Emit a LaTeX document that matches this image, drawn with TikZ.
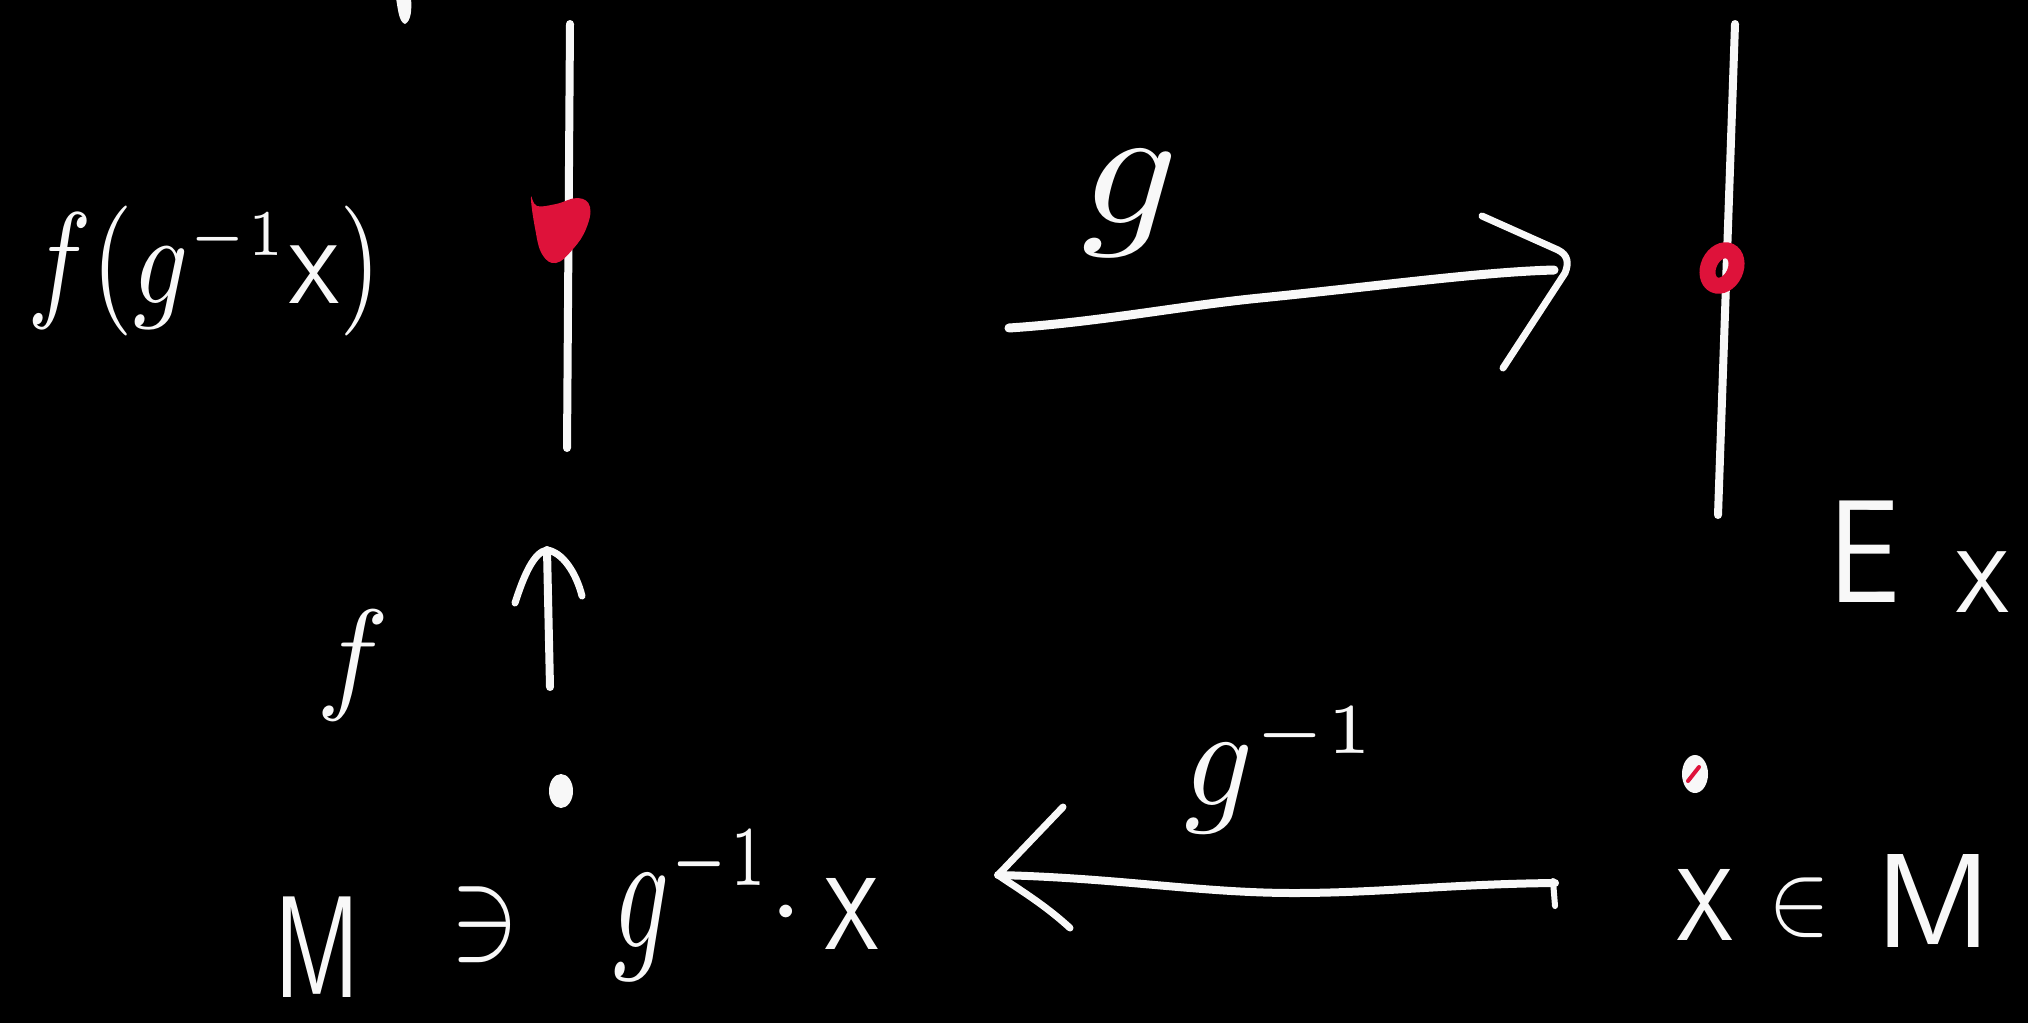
\documentclass[tikz,border=0pt]{standalone}
\definecolor{ink}{RGB}{248,248,248}
\definecolor{redink}{RGB}{222,18,58}
\begin{document}
\begin{tikzpicture}[x=1pt,y=-1pt,
  penline/.style={draw=ink, line width=8pt, line cap=round, line join=round},
  barb/.style={draw=ink, line width=7pt, line cap=round, line join=round},
  lbl/.style={text=ink, inner sep=0pt, outer sep=0pt}]
\fill[black] (0,0) rectangle (2028,1023);
\useasboundingbox (0,0) rectangle (2028,1023);

% stray stroke at the top edge
\fill[ink] (396,-2) -- (411,-2) .. controls (412,10) and (411,21) .. (405,24) .. controls (399,22) and (398,10) .. cycle;

% left fibre
\coordinate (Ltop) at (570,24);
\coordinate (Lbot) at (567,448);
\draw[penline] (Ltop) -- (Lbot);
\fill[redink] plot[smooth cycle, tension=0.7] coordinates {(531,197) (535,228) (542,254) (556,263) (573,249) (586,229) (590,207) (578,198) (556,204) (537,206)};

% right fibre
\coordinate (Rtop) at (1735,24);
\coordinate (Rbot) at (1718,515);
\draw[penline] (Rtop) -- (Rbot);
\begin{scope}[shift={(1722,268)}, rotate=65]
\draw[redink, line width=16pt] (0,0) ellipse [x radius=18.5, y radius=13.5];
\end{scope}

% arrow g
\coordinate (gs) at (1009,328);
\coordinate (ge) at (1554,270);
\coordinate (gb1) at (1482,216);
\coordinate (gb2) at (1503,368);
\draw[penline, line width=9pt] (gs) .. controls (1100,322) and (1180,306) .. (1260,298) .. controls (1380,286) and (1480,272) .. (ge);
\draw[barb] (gb1) -- (1558,250) .. controls (1568,255) and (1569,263) .. (1565,273) -- (gb2);

% arrow f (upwards)
\coordinate (fs) at (550,687);
\coordinate (ft) at (547,550);
\draw[penline] (fs) -- (ft);
\draw[barb] (515,603) .. controls (524,575) and (534,552) .. (ft) .. controls (562,552) and (576,572) .. (582,596);

% point g^{-1}x
\fill[ink] (561,791) ellipse [x radius=12, y radius=17];

% arrow g^{-1}
\coordinate (hs) at (1555,883);
\coordinate (he) at (998,875);
\draw[penline] (hs) .. controls (1450,884) and (1380,893) .. (1294,893) .. controls (1200,893) and (1120,878) .. (he);
\draw[barb, line width=6pt] (1553,881) -- (1555,906);
\draw[barb] (1063,807) -- (he) .. controls (1020,890) and (1045,905) .. (1070,928);

% point x
\fill[ink] (1695,774) ellipse [x radius=13, y radius=19];
\draw[redink, line width=4pt, line cap=round] (1688,781) -- (1699,767);

% labels
\node[lbl, anchor=base west, xscale=10.8, yscale=13] (fgx) at (27,303) {$f(g^{\scriptscriptstyle -1}\mathsf{x})$};
\node[lbl, xscale=19, yscale=17] (glab) at (1130,203) {$g$};
\node[lbl, xscale=12, yscale=14.7] (E) at (1864,551) {$\mathsf{E}$};
\node[lbl, xscale=11.4, yscale=13.7] (Ex) at (1983,582) {$\mathsf{x}$};
\node[lbl, xscale=12.2, yscale=12.4] (flab) at (353,665) {$f$};
\node[lbl, xscale=10, yscale=14.5] (Ml) at (317,947) {$\mathsf{M}$};
\node[lbl, xscale=10.3, yscale=13.1] (ni) at (485,925) {$\ni$};
\node[lbl, anchor=base west, xscale=11, yscale=17] (ginv) at (613,947) {$g^{\scriptscriptstyle -1}$};
\node[lbl, scale=12] (cdot) at (786,915) {$\cdot$};
\node[lbl, xscale=11.5, yscale=16] (xl) at (852,914) {$\mathsf{x}$};
\node[lbl, anchor=base west, xscale=13.5, yscale=14.3] (ginvlab) at (1184,805) {$g^{\scriptscriptstyle -1}$};
\node[lbl, xscale=12, yscale=16] (xr) at (1705,905) {$\mathsf{x}$};
\node[lbl, xscale=9.3, yscale=10.3] (in) at (1799,908) {$\in$};
\node[lbl, xscale=13.5, yscale=13.4] (Mr) at (1934,901) {$\mathsf{M}$};
\end{tikzpicture}
\end{document}
